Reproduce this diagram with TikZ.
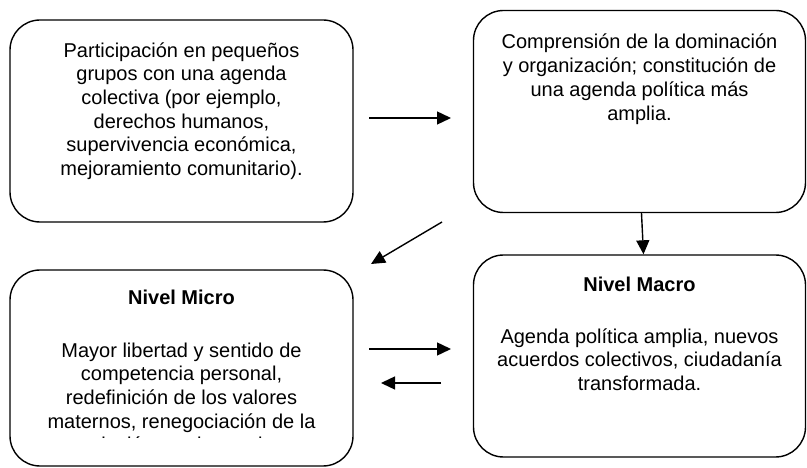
\documentclass[tikz,border=0pt]{standalone}
\usepackage{fontspec}
\setmainfont{Liberation Sans}
\usetikzlibrary{arrows.meta}
\begin{document}
\begin{tikzpicture}[x=1pt,y=-1pt,
  box/.style={draw, line width=1.4pt, rounded corners=30pt, inner sep=0pt},
  txt/.style={align=center, font=\fontsize{20}{23.7}\selectfont, inner sep=0pt, anchor=base},
  arr/.style={line width=1.4pt, -{Triangle[length=14pt,width=13pt]}}]
\useasboundingbox (0,0) rectangle (807,468);

% boxes
\node[box, minimum width=343pt, minimum height=202pt] (b1) at (181.5,121) {};
\node[box, minimum width=332pt, minimum height=202pt] (b2) at (639.5,111.5) {};
\node[box, minimum width=343pt, minimum height=196pt] (b3) at (181.5,368) {};
\node[box, minimum width=332pt, minimum height=202pt] (b4) at (639.5,356) {};

% texts (anchor = baseline of last line)
\node[txt] (t1) at (181.5,175.5) {Participación en pequeños\\grupos con una agenda\\colectiva (por ejemplo,\\derechos humanos,\\supervivencia económica,\\mejoramiento comunitario).};
\node[txt] (t2) at (639.5,120.1) {Comprensión de la dominación\\y organización; constitución de\\una agenda política más\\amplia.};
\node[txt, font=\bfseries\fontsize{20}{23.7}\selectfont] (h3) at (181.5,305) {Nivel Micro};
\begin{scope}
  \clip (12,272) rectangle (351,437);
  \node[txt] (t3) at (181.5,451.8) {Mayor libertad y sentido de\\competencia personal,\\redefinición de los valores\\maternos, renegociación de la\\relación con la pareja.};
\end{scope}
\node[txt, font=\bfseries\fontsize{20}{23.7}\selectfont] (h4) at (639.5,291) {Nivel Macro};
\node[txt] (t4) at (639.5,390.4) {Agenda política amplia, nuevos\\acuerdos colectivos, ciudadanía\\transformada.};

% arrow end points
\coordinate (a1s) at (369,118);
\coordinate (a1e) at (451,118);
\coordinate (a2s) at (442,222);
\coordinate (a2e) at (371,264);
\coordinate (a3s) at (369,349);
\coordinate (a3e) at (451,349);
\coordinate (a4s) at (441,383);
\coordinate (a4e) at (381,383);
\coordinate (a5s) at ([xshift=2pt]b2.south);
\coordinate (a5e) at ([xshift=4pt]b4.north);

\draw[arr] (a1s) -- (a1e);
\draw[arr] (a2s) -- (a2e);
\draw[arr] (a3s) -- (a3e);
\draw[arr] (a4s) -- (a4e);
\draw[arr] (a5s) -- (a5e);
\end{tikzpicture}
\end{document}
